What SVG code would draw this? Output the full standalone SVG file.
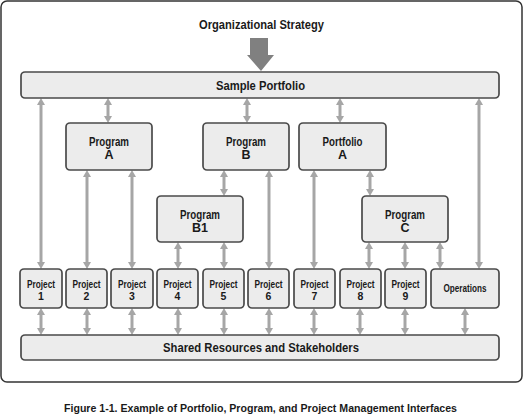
<svg xmlns="http://www.w3.org/2000/svg" width="524" height="415" viewBox="0 0 524 415">
<style>
text{font-family:"Liberation Sans Narrow","Liberation Sans",Arial,sans-serif;font-weight:bold;fill:#1a1a1a;text-anchor:middle}
.box{fill:#ececec;stroke:#4a4a4a;stroke-width:1.7}
.c{stroke:#a6a6a6;stroke-width:3;fill:none;marker-start:url(#ah);marker-end:url(#ah)}
.t12{font-size:12.5px}.t13{font-size:13.5px}.t10{font-size:10.5px}.t11{font-size:11.5px}
</style>
<defs>
<marker id="ah" viewBox="0 0 7 8" refX="1" refY="4" markerWidth="7" markerHeight="8" markerUnits="userSpaceOnUse" orient="auto-start-reverse">
<path d="M0,0 L7,4 L0,8 z" fill="#a6a6a6"/>
</marker>
</defs>
<rect x="1" y="1" width="521" height="381" rx="6" fill="#fff" stroke="#333" stroke-width="1.5"/>
<g id="strategy">
<text class="t12" x="261.5" y="29" textLength="125" lengthAdjust="spacingAndGlyphs">Organizational Strategy</text>
<polygon points="250,38 268,38 268,55 274,55 261,71 247,55 250,55" fill="#808080"/>
</g>
<g id="connectors">
<line class="c" x1="41" y1="104" x2="41" y2="263"/>
<line class="c" x1="108" y1="104" x2="108" y2="117"/>
<line class="c" x1="247" y1="104" x2="247" y2="117"/>
<line class="c" x1="340" y1="104" x2="340" y2="117"/>
<line class="c" x1="479" y1="104" x2="479" y2="263"/>
<line class="c" x1="87" y1="176" x2="87" y2="263"/>
<line class="c" x1="132" y1="176" x2="132" y2="263"/>
<line class="c" x1="224" y1="176" x2="224" y2="190"/>
<line class="c" x1="269" y1="176" x2="269" y2="263"/>
<line class="c" x1="314" y1="176" x2="314" y2="263"/>
<line class="c" x1="370" y1="176" x2="370" y2="190"/>
<line class="c" x1="178" y1="248" x2="178" y2="263"/>
<line class="c" x1="224" y1="248" x2="224" y2="263"/>
<line class="c" x1="369" y1="248" x2="369" y2="263"/>
<line class="c" x1="405" y1="248" x2="405" y2="263"/>
<line class="c" x1="440" y1="248" x2="440" y2="263"/>
<line class="c" x1="41" y1="314" x2="41" y2="329"/>
<line class="c" x1="87" y1="314" x2="87" y2="329"/>
<line class="c" x1="132" y1="314" x2="132" y2="329"/>
<line class="c" x1="178" y1="314" x2="178" y2="329"/>
<line class="c" x1="224" y1="314" x2="224" y2="329"/>
<line class="c" x1="269" y1="314" x2="269" y2="329"/>
<line class="c" x1="314" y1="314" x2="314" y2="329"/>
<line class="c" x1="360" y1="314" x2="360" y2="329"/>
<line class="c" x1="405" y1="314" x2="405" y2="329"/>
<line class="c" x1="465" y1="314" x2="465" y2="329"/>
</g>
<g id="sample-portfolio">
<rect class="box" x="21" y="72" width="478" height="26" rx="4"/>
<text class="t13" x="260.5" y="90" textLength="89" lengthAdjust="spacingAndGlyphs">Sample Portfolio</text>
</g>
<g id="program-a">
<rect class="box" x="66" y="123" width="86" height="47" rx="4"/>
<text class="t12" x="109" y="145.5" textLength="40" lengthAdjust="spacingAndGlyphs">Program</text>
<text class="t12" x="109" y="159">A</text>
</g>
<g id="program-b">
<rect class="box" x="203" y="123" width="86" height="47" rx="4"/>
<text class="t12" x="246" y="145.5" textLength="40" lengthAdjust="spacingAndGlyphs">Program</text>
<text class="t12" x="246" y="159">B</text>
</g>
<g id="portfolio-a">
<rect class="box" x="299" y="123" width="87" height="47" rx="4"/>
<text class="t12" x="342.5" y="145.5" textLength="40" lengthAdjust="spacingAndGlyphs">Portfolio</text>
<text class="t12" x="342.5" y="159">A</text>
</g>
<g id="program-b1">
<rect class="box" x="157" y="196" width="86" height="46" rx="4"/>
<text class="t12" x="200" y="218.5" textLength="40" lengthAdjust="spacingAndGlyphs">Program</text>
<text class="t12" x="200" y="232">B1</text>
</g>
<g id="program-c">
<rect class="box" x="362" y="196" width="86" height="46" rx="4"/>
<text class="t12" x="405" y="218.5" textLength="40" lengthAdjust="spacingAndGlyphs">Program</text>
<text class="t12" x="405" y="232">C</text>
</g>
<g id="project-1">
<rect class="box" x="20" y="269" width="42" height="39" rx="4"/>
<text class="t10" x="41" y="288" textLength="28" lengthAdjust="spacingAndGlyphs">Project</text>
<text class="t10" x="41" y="300">1</text>
</g>
<g id="project-2">
<rect class="box" x="66" y="269" width="41" height="39" rx="4"/>
<text class="t10" x="86.5" y="288" textLength="28" lengthAdjust="spacingAndGlyphs">Project</text>
<text class="t10" x="86.5" y="300">2</text>
</g>
<g id="project-3">
<rect class="box" x="111" y="269" width="42" height="39" rx="4"/>
<text class="t10" x="132" y="288" textLength="28" lengthAdjust="spacingAndGlyphs">Project</text>
<text class="t10" x="132" y="300">3</text>
</g>
<g id="project-4">
<rect class="box" x="157" y="269" width="41" height="39" rx="4"/>
<text class="t10" x="177.5" y="288" textLength="28" lengthAdjust="spacingAndGlyphs">Project</text>
<text class="t10" x="177.5" y="300">4</text>
</g>
<g id="project-5">
<rect class="box" x="203" y="269" width="41" height="39" rx="4"/>
<text class="t10" x="223.5" y="288" textLength="28" lengthAdjust="spacingAndGlyphs">Project</text>
<text class="t10" x="223.5" y="300">5</text>
</g>
<g id="project-6">
<rect class="box" x="248" y="269" width="41" height="39" rx="4"/>
<text class="t10" x="268.5" y="288" textLength="28" lengthAdjust="spacingAndGlyphs">Project</text>
<text class="t10" x="268.5" y="300">6</text>
</g>
<g id="project-7">
<rect class="box" x="294" y="269" width="41" height="39" rx="4"/>
<text class="t10" x="314.5" y="288" textLength="28" lengthAdjust="spacingAndGlyphs">Project</text>
<text class="t10" x="314.5" y="300">7</text>
</g>
<g id="project-8">
<rect class="box" x="340" y="269" width="41" height="39" rx="4"/>
<text class="t10" x="360.5" y="288" textLength="28" lengthAdjust="spacingAndGlyphs">Project</text>
<text class="t10" x="360.5" y="300">8</text>
</g>
<g id="project-9">
<rect class="box" x="385" y="269" width="41" height="39" rx="4"/>
<text class="t10" x="405.5" y="288" textLength="28" lengthAdjust="spacingAndGlyphs">Project</text>
<text class="t10" x="405.5" y="300">9</text>
</g>
<g id="operations">
<rect class="box" x="431" y="269" width="68" height="39" rx="4"/>
<text class="t10" x="465" y="292" textLength="43" lengthAdjust="spacingAndGlyphs">Operations</text>
</g>
<g id="shared-resources">
<rect class="box" x="21" y="335" width="478" height="25" rx="4"/>
<text class="t13" x="261" y="352" textLength="196" lengthAdjust="spacingAndGlyphs">Shared Resources and Stakeholders</text>
</g>
<text class="t11" x="260.5" y="412" textLength="393" lengthAdjust="spacingAndGlyphs">Figure 1-1. Example of Portfolio, Program, and Project Management Interfaces</text>
</svg>
